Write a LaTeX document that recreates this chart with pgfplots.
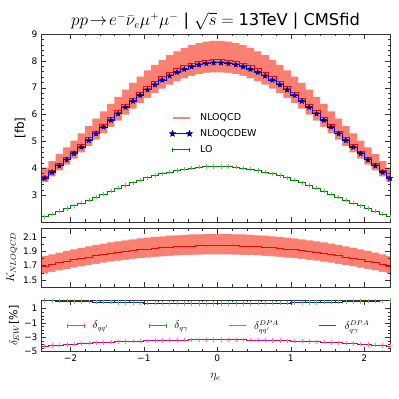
\documentclass[border=0pt]{standalone}
\usepackage{fontspec}
\setmainfont{DejaVu Sans}
\usepackage{pgfplots}
\usepackage{pgfplotstable}
\pgfplotsset{compat=1.18}

\definecolor{salmon}{RGB}{250,128,114}
\definecolor{mplgreen}{RGB}{0,128,0}
\definecolor{mplmag}{RGB}{191,0,191}
\definecolor{navy}{RGB}{0,0,128}

% filled five-point star
\pgfdeclareplotmark{fstar}{%
  \pgfpathmoveto{\pgfpointpolar{90}{\pgfplotmarksize}}%
  \pgfpathlineto{\pgfpointpolar{126}{0.45\pgfplotmarksize}}%
  \pgfpathlineto{\pgfpointpolar{162}{\pgfplotmarksize}}%
  \pgfpathlineto{\pgfpointpolar{198}{0.45\pgfplotmarksize}}%
  \pgfpathlineto{\pgfpointpolar{234}{\pgfplotmarksize}}%
  \pgfpathlineto{\pgfpointpolar{270}{0.45\pgfplotmarksize}}%
  \pgfpathlineto{\pgfpointpolar{306}{\pgfplotmarksize}}%
  \pgfpathlineto{\pgfpointpolar{342}{0.45\pgfplotmarksize}}%
  \pgfpathlineto{\pgfpointpolar{18}{\pgfplotmarksize}}%
  \pgfpathlineto{\pgfpointpolar{54}{0.45\pgfplotmarksize}}%
  \pgfpathclose
  \pgfusepathqfillstroke}

% xl = left bin edge, c = bin centre
\pgfplotstableread{
xl    c     lo    nlo   up    dn    ew    k     kup   kdn   dqq    dqa
-2.5 -2.45 2.100 3.503 3.801 3.293 3.428 1.668 1.805 1.565 -4.310 2.170
-2.4 -2.35 2.190 3.708 4.023 3.486 3.630 1.693 1.832 1.588 -4.234 2.134
-2.3 -2.25 2.290 3.932 4.266 3.696 3.851 1.717 1.858 1.611 -4.160 2.100
-2.2 -2.15 2.400 4.176 4.531 3.925 4.092 1.740 1.883 1.632 -4.090 2.067
-2.1 -2.05 2.499 4.401 4.775 4.137 4.314 1.761 1.905 1.652 -4.022 2.035
-2.0 -1.95 2.603 4.639 5.033 4.361 4.548 1.782 1.928 1.672 -3.958 2.005
-1.9 -1.85 2.710 4.883 5.298 4.590 4.789 1.802 1.950 1.690 -3.898 1.977
-1.8 -1.75 2.820 5.135 5.571 4.827 5.038 1.821 1.970 1.708 -3.840 1.950
-1.7 -1.65 2.931 5.387 5.845 5.064 5.287 1.838 1.989 1.724 -3.786 1.924
-1.6 -1.55 3.042 5.643 6.123 5.304 5.540 1.855 2.007 1.740 -3.734 1.900
-1.5 -1.45 3.151 5.896 6.397 5.542 5.789 1.871 2.024 1.755 -3.686 1.878
-1.4 -1.35 3.258 6.141 6.663 5.773 6.031 1.885 2.040 1.768 -3.642 1.857
-1.3 -1.25 3.362 6.384 6.927 6.001 6.271 1.899 2.055 1.781 -3.600 1.837
-1.2 -1.15 3.461 6.614 7.176 6.217 6.499 1.911 2.068 1.793 -3.562 1.819
-1.1 -1.05 3.555 6.836 7.417 6.426 6.718 1.923 2.081 1.804 -3.526 1.803
-1.0 -0.95 3.643 7.042 7.641 6.619 6.922 1.933 2.091 1.813 -3.494 1.788
-0.9 -0.85 3.724 7.232 7.847 6.798 7.110 1.942 2.101 1.822 -3.466 1.774
-0.8 -0.75 3.798 7.410 8.040 6.965 7.286 1.951 2.111 1.830 -3.440 1.762
-0.7 -0.65 3.864 7.566 8.209 7.112 7.440 1.958 2.119 1.837 -3.418 1.752
-0.6 -0.55 3.921 7.701 8.356 7.239 7.574 1.964 2.125 1.842 -3.398 1.743
-0.5 -0.45 3.970 7.817 8.481 7.348 7.688 1.969 2.130 1.847 -3.382 1.735
-0.4 -0.35 4.009 7.914 8.587 7.439 7.784 1.974 2.136 1.852 -3.370 1.729
-0.3 -0.25 4.039 7.985 8.664 7.506 7.854 1.977 2.139 1.854 -3.360 1.725
-0.2 -0.15 4.059 8.033 8.716 7.551 7.902 1.979 2.141 1.856 -3.354 1.722
-0.1 -0.05 4.069 8.057 8.742 7.574 7.926 1.980 2.142 1.857 -3.350 1.720
 0.0  0.05 4.069 8.057 8.742 7.574 7.926 1.980 2.142 1.857 -3.350 1.720
 0.1  0.15 4.059 8.033 8.716 7.551 7.902 1.979 2.141 1.856 -3.354 1.722
 0.2  0.25 4.039 7.985 8.664 7.506 7.854 1.977 2.139 1.854 -3.360 1.725
 0.3  0.35 4.009 7.914 8.587 7.439 7.784 1.974 2.136 1.852 -3.370 1.729
 0.4  0.45 3.970 7.817 8.481 7.348 7.688 1.969 2.130 1.847 -3.382 1.735
 0.5  0.55 3.921 7.701 8.356 7.239 7.574 1.964 2.125 1.842 -3.398 1.743
 0.6  0.65 3.864 7.566 8.209 7.112 7.440 1.958 2.119 1.837 -3.418 1.752
 0.7  0.75 3.798 7.410 8.040 6.965 7.286 1.951 2.111 1.830 -3.440 1.762
 0.8  0.85 3.724 7.232 7.847 6.798 7.110 1.942 2.101 1.822 -3.466 1.774
 0.9  0.95 3.643 7.042 7.641 6.619 6.922 1.933 2.091 1.813 -3.494 1.788
 1.0  1.05 3.555 6.836 7.417 6.426 6.718 1.923 2.081 1.804 -3.526 1.803
 1.1  1.15 3.461 6.614 7.176 6.217 6.499 1.911 2.068 1.793 -3.562 1.819
 1.2  1.25 3.362 6.384 6.927 6.001 6.271 1.899 2.055 1.781 -3.600 1.837
 1.3  1.35 3.258 6.141 6.663 5.773 6.031 1.885 2.040 1.768 -3.642 1.857
 1.4  1.45 3.151 5.896 6.397 5.542 5.789 1.871 2.024 1.755 -3.686 1.878
 1.5  1.55 3.042 5.643 6.123 5.304 5.540 1.855 2.007 1.740 -3.734 1.900
 1.6  1.65 2.931 5.387 5.845 5.064 5.287 1.838 1.989 1.724 -3.786 1.924
 1.7  1.75 2.820 5.135 5.571 4.827 5.038 1.821 1.970 1.708 -3.840 1.950
 1.8  1.85 2.710 4.883 5.298 4.590 4.789 1.802 1.950 1.690 -3.898 1.977
 1.9  1.95 2.603 4.639 5.033 4.361 4.548 1.782 1.928 1.672 -3.958 2.005
 2.0  2.05 2.499 4.401 4.775 4.137 4.314 1.761 1.905 1.652 -4.022 2.035
 2.1  2.15 2.400 4.176 4.531 3.925 4.092 1.740 1.883 1.632 -4.090 2.067
 2.2  2.25 2.290 3.932 4.266 3.696 3.851 1.717 1.858 1.611 -4.160 2.100
 2.3  2.35 2.190 3.708 4.023 3.486 3.630 1.693 1.832 1.588 -4.234 2.134
 2.4  2.45 2.100 3.503 3.801 3.293 3.428 1.668 1.805 1.565 -4.310 2.170
 2.5  2.55 2.100 3.503 3.801 3.293 3.428 1.668 1.805 1.565 -4.310 2.170
}\bins

\pgfplotsset{
  panel/.style={
    width=349pt, scale only axis, axis on top,
    xmin=-2.4, xmax=2.35,
    xtick={-2,-1,0,1,2}, minor x tick num=4,
    tick align=inside,
    axis line style={black!80}, every tick/.style={black!80},
    major tick length=5pt, minor tick length=2.5pt,
    tick label style={font=\fontsize{9}{10}\selectfont},
    /pgf/number format/assume math mode=true,
    ylabel style={anchor=center, font=\fontsize{11}{12}\selectfont},
    legend cell align=left,
  },
  binline/.style={const plot mark left, line width=0.8pt},
  binfill/.style={const plot mark left, draw=none, fill=#1},
  % legend samples: plain line, line with end caps, line with end stars
  lineimg/.style={legend image code/.code={\draw[##1] (0pt,0pt) -- (17pt,0pt);}},
  capimg/.style={legend image code/.code={\draw[##1] (0pt,0pt) -- (17pt,0pt) (0pt,-2.2pt) -- (0pt,2.2pt) (17pt,-2.2pt) -- (17pt,2.2pt);}},
  starimg/.style={legend image code/.code={\draw[##1] plot coordinates {(0pt,0pt) (17pt,0pt)};}},
}

\begin{document}
\begin{tikzpicture}
\useasboundingbox (0pt,0pt) rectangle (399pt,399pt);

\node[inner sep=0pt] at (215.5pt,378pt) {\fontsize{16.3}{17}\selectfont $pp\!\rightarrow\! e^-\bar{\nu}_e\mu^+\mu^-$ | $\sqrt{s}={}$13TeV | CMSfid};

% cross sections
\begin{axis}[panel, at={(41pt,177pt)}, anchor=south west, height=188pt,
    ymin=2, ymax=9, ytick={3,4,5,6,7,8,9}, minor y tick num=4,
    xticklabels={},
    ylabel={[fb]}, ylabel style={at={(axis description cs:-0.06,0.5)}, font=\fontsize{12}{13}\selectfont},
    legend style={at={(0.36,0.6)}, anchor=north west, draw=none, fill=none,
      font=\fontsize{9.5}{10}\selectfont, row sep=3.5pt,
      /tikz/every odd column/.append style={column sep=6pt}},
]
\addplot[binfill=salmon, forget plot] table[x=xl,y=up]{\bins} \closedcycle;
\addplot[binfill=white, forget plot] table[x=xl,y=dn]{\bins} \closedcycle;
\addplot[red, binline, forget plot] table[x=xl,y=nlo]{\bins};
\addplot[blue, binline, forget plot] table[x=xl,y=ew]{\bins};
\addplot[only marks, mark=fstar, mark size=2.8pt, navy, forget plot] table[x=c,y=ew]{\bins};
\addplot[mplgreen, binline, forget plot] table[x=xl,y=lo]{\bins};
\addplot[only marks, mark=|, mark size=2.2pt, mplgreen!55, forget plot] table[x=c,y=lo]{\bins};

\addlegendimage{lineimg, color=red!50, line width=1.8pt}
\addlegendentry{NLOQCD}
\addlegendimage{starimg, blue, line width=0.8pt, mark=fstar, mark size=2.8pt, mark options={navy, fill=navy}}
\addlegendentry{NLOQCDEW}
\addlegendimage{capimg, color=mplgreen, line width=0.8pt}
\addlegendentry{LO}
\end{axis}

% K factor
\begin{axis}[panel, at={(41pt,112pt)}, anchor=south west, height=58.5pt,
    ymin=1.4, ymax=2.22, ytick={1.5,1.7,1.9,2.1}, yticklabels={1.5,1.7,1.9,2.1},
    minor y tick num=1, xticklabels={},
    ylabel={$K_{NLOQCD}$}, ylabel style={at={(axis description cs:-0.083,0.5)}},
]
\addplot[binfill=salmon] table[x=xl,y=kup]{\bins} \closedcycle;
\addplot[binfill=white] table[x=xl,y=kdn]{\bins} \closedcycle;
\addplot[red, binline] table[x=xl,y=k]{\bins};
\end{axis}

% EW corrections
\begin{axis}[panel, at={(41pt,47.5pt)}, anchor=south west, height=51.5pt,
    ymin=-5, ymax=2.2, ytick={-5,-3,-1,1}, yticklabels={−5,−3,−1,1},
    minor y tick num=3,
    xticklabels={−2,−1,0,1,2},
    xlabel={$\eta_e$}, xlabel style={at={(axis description cs:0.5,-0.5)}, anchor=center, font=\fontsize{12}{13}\selectfont},
    ylabel={$\delta_{EW}$[\%]}, ylabel style={at={(axis description cs:-0.077,0.5)}},
    legend columns=4,
    legend style={at={(0.065,0.5)}, anchor=west, draw=none, fill=none,
      font=\fontsize{10.5}{11}\selectfont,
      /tikz/every odd column/.append style={column sep=6pt},
      /tikz/every even column/.append style={column sep=38pt}},
]
\addplot[red, binline, forget plot] table[x=xl,y=dqq]{\bins};
\addplot[only marks, mark=|, mark size=2.2pt, red!50, forget plot] table[x=c,y=dqq]{\bins};
\addplot[mplgreen, binline, forget plot] table[x=xl,y=dqa]{\bins};
\addplot[only marks, mark=|, mark size=2.2pt, mplgreen!55, forget plot] table[x=c,y=dqa]{\bins};
\addplot[mplmag, binline, opacity=0.7, forget plot] table[x=xl,y=dqq]{\bins};
\addplot[blue, binline, opacity=0.7, forget plot] table[x=xl,y=dqa]{\bins};

\addlegendimage{capimg, color=red!70, line width=0.8pt}
\addlegendentry{$\delta_{qq'}$}
\addlegendimage{capimg, color=mplgreen!80, line width=0.8pt}
\addlegendentry{$\delta_{q\gamma}$}
\addlegendimage{lineimg, color=mplmag!70, line width=0.8pt}
\addlegendentry{$\delta_{qq'}^{DPA}$}
\addlegendimage{lineimg, color=blue!80, line width=0.8pt}
\addlegendentry{$\delta_{q\gamma}^{DPA}$}
\end{axis}
\end{tikzpicture}
\end{document}
